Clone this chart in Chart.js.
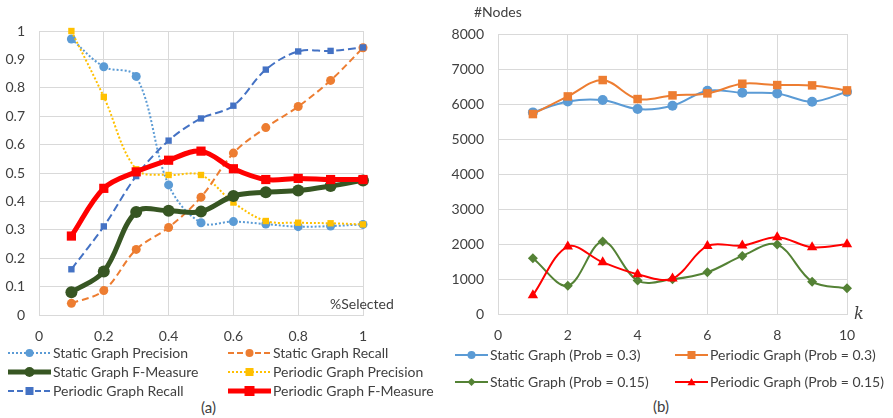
<!DOCTYPE html>
<html>
<head>
<meta charset="utf-8">
<script src="https://cdn.jsdelivr.net/npm/chart.js@4/dist/chart.umd.min.js"></script>
<style>
  html, body { margin: 0; padding: 0; background: #fff; }
  body { width: 893px; height: 418px; position: relative; overflow: hidden;
         font-family: Lato, "Open Sans", sans-serif; color: #404040; }
  .panel { position: absolute; top: 0; }
  .txt { position: absolute; font-size: 14px; white-space: nowrap; line-height: 1; }
  .leg { position: absolute; display: flex; align-items: center; font-size: 14px; white-space: nowrap; }
  .leg svg { margin-right: 2px; }
</style>
</head>
<body>
<div class="panel" style="left:0;width:445px;height:345px"><canvas id="chartA"></canvas></div>
<div class="panel" style="left:445px;width:448px;height:345px"><canvas id="chartB"></canvas></div>

<div class="txt" style="left:330px;top:297px">%Selected</div>
<div class="txt" style="left:474px;top:5px">#Nodes</div>
<div class="txt" style="left:854px;top:306px;font-family:'DejaVu Serif',serif;font-style:italic;font-size:16px">k</div>
<div class="txt" style="left:201px;top:400px;font-size:15px">(a)</div>
<div class="txt" style="left:653px;top:399px;font-size:15px">(b)</div>
<div id="legendA"></div>
<div id="legendB"></div>

<script>
// ---- (a) quality vs. fraction selected ----
const selectedFractions = [0.1, 0.2, 0.3, 0.4, 0.5, 0.6, 0.7, 0.8, 0.9, 1.0];
const staticPrecision   = [0.972, 0.874, 0.840, 0.458, 0.325, 0.329, 0.320, 0.311, 0.313, 0.319];
const staticRecall      = [0.041, 0.086, 0.231, 0.308, 0.415, 0.570, 0.660, 0.734, 0.826, 0.941];
const staticFMeasure    = [0.080, 0.153, 0.363, 0.367, 0.364, 0.419, 0.432, 0.438, 0.454, 0.474];
const periodicPrecision = [1.000, 0.768, 0.513, 0.493, 0.493, 0.396, 0.331, 0.325, 0.323, 0.319];
const periodicRecall    = [0.161, 0.312, 0.489, 0.614, 0.692, 0.737, 0.864, 0.928, 0.930, 0.942];
const periodicFMeasure  = [0.278, 0.446, 0.504, 0.545, 0.577, 0.515, 0.477, 0.481, 0.477, 0.477];
const ticksA = [0, 0.2, 0.4, 0.6, 0.8, 1];

// ---- (b) node counts vs. k ----
const kValues        = [1, 2, 3, 4, 5, 6, 7, 8, 9, 10];
const staticProb03   = [5760, 6074, 6112, 5855, 5950, 6379, 6322, 6303, 6064, 6350];
const periodicProb03 = [5712, 6217, 6684, 6141, 6246, 6303, 6579, 6541, 6532, 6389];
const staticProb015  = [1592, 810, 2069, 954, 992, 1192, 1659, 1983, 925, 734];
const periodicProb015= [534, 1926, 1478, 1135, 1011, 1945, 1955, 2193, 1907, 1993];

const pts = (xs, ys) => xs.map((x, i) => ({ x, y: ys[i] }));
const tickFont = { family: 'Lato, "Open Sans", sans-serif', size: 14 };
const gridColor = '#d9d9d9';

function series(label, xs, ys, o) {
  return Object.assign({
    label, data: pts(xs, ys), borderColor: o.color, backgroundColor: o.color,
    pointBackgroundColor: o.color, pointBorderColor: o.color, pointBorderWidth: 0,
    tension: 0.35, clip: false, fill: false
  }, o.extra);
}

new Chart(document.getElementById('chartA'), {
  type: 'line',
  data: { datasets: [
    series('Periodic Graph F-Measure', selectedFractions, periodicFMeasure, { color: '#ff0000',
      extra: { borderWidth: 5, pointStyle: 'rect', pointRadius: 6.5, order: 0 } }),
    series('Static Graph F-Measure', selectedFractions, staticFMeasure, { color: '#375623',
      extra: { borderWidth: 5, pointStyle: 'circle', pointRadius: 6, order: 1 } }),
    series('Periodic Graph Recall', selectedFractions, periodicRecall, { color: '#4472c4',
      extra: { borderWidth: 2, borderDash: [8, 4], pointStyle: 'rect', pointRadius: 4.5, order: 2 } }),
    series('Static Graph Recall', selectedFractions, staticRecall, { color: '#ed7d31',
      extra: { borderWidth: 2, borderDash: [7, 4], pointStyle: 'circle', pointRadius: 4.5, order: 3 } }),
    series('Periodic Graph Precision', selectedFractions, periodicPrecision, { color: '#ffc000',
      extra: { borderWidth: 2, borderDash: [2, 2], pointStyle: 'rect', pointRadius: 4.5, order: 4 } }),
    series('Static Graph Precision', selectedFractions, staticPrecision, { color: '#5b9bd5',
      extra: { borderWidth: 2, borderDash: [2, 2], pointStyle: 'circle', pointRadius: 4.5, order: 5 } })
  ]},
  options: {
    responsive: true, maintainAspectRatio: false, animation: false,
    layout: { padding: { top: 31, right: 82, left: 0, bottom: 0 } },
    plugins: { legend: { display: false }, tooltip: { enabled: false } },
    scales: {
      x: { type: 'linear', min: 0, max: 1,
           afterBuildTicks: s => { s.ticks = ticksA.map(v => ({ value: v })); },
           afterFit: s => { s.height = 30; },
           grid: { color: gridColor, drawTicks: false },
           border: { color: gridColor },
           ticks: { color: '#404040', font: tickFont, padding: 13, maxRotation: 0,
                    callback: v => String(v) } },
      y: { min: 0, max: 1,
           afterFit: s => { s.width = 39; },
           grid: { color: gridColor, drawTicks: false },
           border: { color: gridColor },
           ticks: { color: '#404040', font: tickFont, stepSize: 0.1, padding: 14,
                    callback: v => String(Math.round(v * 10) / 10) } }
    }
  }
});

new Chart(document.getElementById('chartB'), {
  type: 'line',
  data: { datasets: [
    series('Periodic Graph (Prob = 0.15)', kValues, periodicProb015, { color: '#ff0000',
      extra: { borderWidth: 2, pointStyle: 'triangle', pointRadius: 6, order: 0 } }),
    series('Static Graph (Prob = 0.15)', kValues, staticProb015, { color: '#548235',
      extra: { borderWidth: 2, pointStyle: 'rectRot', pointRadius: 5, order: 1 } }),
    series('Periodic Graph (Prob = 0.3)', kValues, periodicProb03, { color: '#ed7d31',
      extra: { borderWidth: 2, pointStyle: 'rect', pointRadius: 6, order: 2 } }),
    series('Static Graph (Prob = 0.3)', kValues, staticProb03, { color: '#5b9bd5',
      extra: { borderWidth: 2, pointStyle: 'circle', pointRadius: 5, order: 3 } })
  ]},
  options: {
    responsive: true, maintainAspectRatio: false, animation: false,
    layout: { padding: { top: 34, right: 46, left: 0, bottom: 0 } },
    plugins: { legend: { display: false }, tooltip: { enabled: false } },
    scales: {
      x: { type: 'linear', min: 0, max: 10,
           afterFit: s => { s.height = 31; },
           grid: { color: gridColor, drawTicks: false },
           border: { color: gridColor },
           ticks: { color: '#404040', font: tickFont, stepSize: 2, padding: 13, maxRotation: 0,
                    callback: v => String(v) } },
      y: { min: 0, max: 8000,
           afterFit: s => { s.width = 53; },
           grid: { color: gridColor, drawTicks: false },
           border: { color: gridColor },
           ticks: { color: '#404040', font: tickFont, stepSize: 1000, padding: 14,
                    callback: v => String(v) } }
    }
  }
});

// Legend swatches: short line sample with the series marker in the middle
function swatch(w, color, width, dash, marker, size) {
  const cy = 8, cx = w / 2;
  let m = '';
  if (marker === 'circle') m = `<circle cx="${cx}" cy="${cy}" r="${size}" fill="${color}"/>`;
  else if (marker === 'rect') m = `<rect x="${cx - size}" y="${cy - size}" width="${2 * size}" height="${2 * size}" fill="${color}"/>`;
  else if (marker === 'diamond') m = `<polygon points="${cx},${cy - size} ${cx + size},${cy} ${cx},${cy + size} ${cx - size},${cy}" fill="${color}"/>`;
  else if (marker === 'triangle') m = `<polygon points="${cx},${cy - size} ${cx + size},${cy + size * 0.8} ${cx - size},${cy + size * 0.8}" fill="${color}"/>`;
  const da = dash ? `stroke-dasharray="${dash}"` : '';
  return `<svg width="${w}" height="16"><line x1="0" y1="${cy}" x2="${w}" y2="${cy}" stroke="${color}" stroke-width="${width}" ${da}/>${m}</svg>`;
}
function addLegend(host, items) {
  const el = document.getElementById(host);
  items.forEach(it => {
    const d = document.createElement('div');
    d.className = 'leg';
    d.style.left = it.x + 'px';
    d.style.top = (it.y - 8) + 'px';
    d.innerHTML = swatch(it.w, it.color, it.lw, it.dash, it.marker, it.size) + '<span>' + it.label + '</span>';
    el.appendChild(d);
  });
}
addLegend('legendA', [
  { x: 8,   y: 352, w: 43, color: '#5b9bd5', lw: 2, dash: '2,2', marker: 'circle', size: 4, label: 'Static Graph Precision' },
  { x: 228, y: 352, w: 43, color: '#ed7d31', lw: 2, dash: '6,3', marker: 'circle', size: 4, label: 'Static Graph Recall' },
  { x: 8,   y: 371, w: 43, color: '#375623', lw: 5, dash: '', marker: 'circle', size: 5, label: 'Static Graph F-Measure' },
  { x: 228, y: 371, w: 43, color: '#ffc000', lw: 2, dash: '2,2', marker: 'rect', size: 4, label: 'Periodic Graph Precision' },
  { x: 8,   y: 390, w: 43, color: '#4472c4', lw: 2, dash: '6,3', marker: 'rect', size: 4, label: 'Periodic Graph Recall' },
  { x: 228, y: 390, w: 43, color: '#ff0000', lw: 5, dash: '', marker: 'rect', size: 5, label: 'Periodic Graph F-Measure' }
]);
addLegend('legendB', [
  { x: 455, y: 354, w: 33, color: '#5b9bd5', lw: 2, dash: '', marker: 'circle', size: 4, label: 'Static Graph (Prob = 0.3)' },
  { x: 675, y: 354, w: 33, color: '#ed7d31', lw: 2, dash: '', marker: 'rect', size: 4, label: 'Periodic Graph (Prob = 0.3)' },
  { x: 455, y: 381, w: 33, color: '#548235', lw: 2, dash: '', marker: 'diamond', size: 4, label: 'Static Graph (Prob = 0.15)' },
  { x: 675, y: 381, w: 33, color: '#ff0000', lw: 2, dash: '', marker: 'triangle', size: 4, label: 'Periodic Graph (Prob = 0.15)' }
]);
</script>
</body>
</html>
